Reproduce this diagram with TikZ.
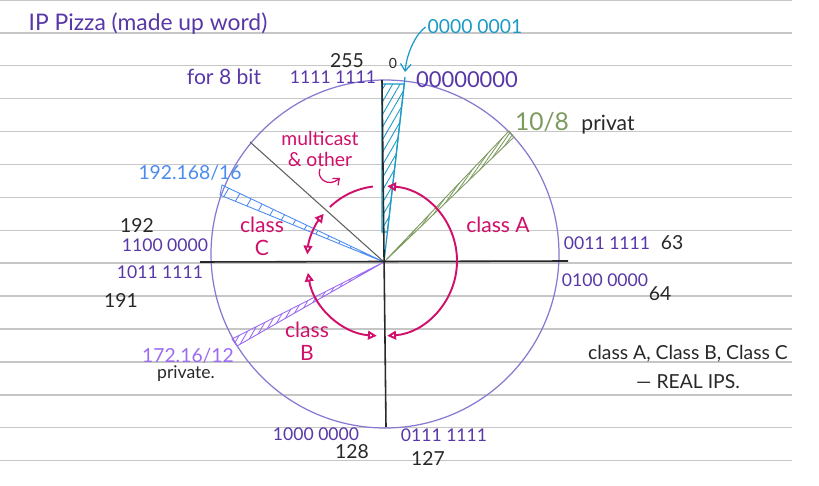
\documentclass[tikz,border=0pt]{standalone}
\usepackage{fontspec}
\setmainfont{Lato}
\usepackage{xcolor}
\definecolor{noteRule}{RGB}{198, 198, 198}
\definecolor{ringPurple}{RGB}{136, 120, 208}
\definecolor{binPurple}{RGB}{88, 56, 168}
\definecolor{hotPink}{RGB}{208, 16, 106}
\definecolor{cyanInk}{RGB}{27, 154, 199}
\definecolor{greenInk}{RGB}{125, 155, 94}
\definecolor{blueInk}{RGB}{75, 140, 240}
\definecolor{violetInk}{RGB}{155, 107, 242}
\definecolor{inkDark}{RGB}{40, 40, 40}
\definecolor{inkGray}{RGB}{95, 95, 95}
\usepackage{tikz}
\usetikzlibrary{
    arrows.meta,
    patterns.meta,
    calc
}

\begin{document}
\begin{tikzpicture}[
    x=0.02cm, y=-0.02cm,
    ruleLine/.style={draw=noteRule, line width=0.8pt},
    ringLine/.style={draw=ringPurple, line width=0.7pt},
    axisLine/.style={draw=inkDark, line width=0.9pt},
    classArc/.style={draw=hotPink, line width=1.1pt},
    classArrows/.style={
        classArc, {Triangle[open, length=5pt, width=5pt]}-{Triangle[open, length=5pt, width=5pt]}
    },
    cyanArrow/.style={-{Straight Barb[length=4pt, width=6pt]}, draw=cyanInk, line width=0.7pt},
    pinkArrow/.style={-{Straight Barb[length=3pt, width=5pt]}, draw=hotPink, line width=0.7pt},
    handText/.style={inner sep=1pt, font=\fontsize{11}{13}\selectfont},
    binText/.style={handText, text=binPurple, font=\fontsize{10}{12}\selectfont},
    numText/.style={handText, text=inkDark},
    pinkText/.style={handText, text=hotPink, align=center, font=\fontsize{12}{13}\selectfont}
]
    \useasboundingbox[fill=white] (0,0) rectangle (819,486);

    % Ruled paper
    \foreach \k in {0,...,14}
        \draw[ruleLine] (0,{32.9*\k}) -- (792,{32.9*\k});

    % Pizza layout
    \coordinate (hub) at (384,262);
    \coordinate (mc) at (382,261);
    \draw[ringLine] (385,254) circle[radius=174];

    % Hatched slices
    \filldraw[draw=cyanInk, line width=0.6pt,
        pattern={Lines[angle=60, distance=3.6pt, line width=0.5pt]}, pattern color=cyanInk]
        (382,84) -- (404.3,84) -- (387.4,232) -- (382,232) -- cycle;
    \draw[cyanInk, line width=0.7pt] (hub) -- (405,77);

    \filldraw[draw=greenInk, line width=0.5pt,
        pattern={Lines[angle=55, distance=1.8pt, line width=0.5pt]}, pattern color=greenInk]
        (hub) -- (509,131) -- (514,137) -- cycle;

    \filldraw[draw=blueInk, line width=0.5pt,
        pattern={Lines[angle=60, distance=7pt, line width=0.5pt]}, pattern color=blueInk]
        (hub) -- (222,185) -- (220,195) -- cycle;

    \filldraw[draw=violetInk, line width=0.5pt,
        pattern={Lines[angle=60, distance=3pt, line width=0.5pt]}, pattern color=violetInk]
        (hub) -- (232,339) -- (237,346) -- cycle;

    \draw[inkGray, line width=0.6pt] (hub) -- (250,142);

    % Axes
    \draw[axisLine] (200,262) -- (568,261);
    \draw[axisLine] (382,80) -- (386,427);

    % Class arcs
    \draw[classArrows] ($(mc)+(-86:75)$) arc[start angle=-86, end angle=86, radius=75];
    \draw[classArrows] ($(mc)+(94:75)$) arc[start angle=94, end angle=171, radius=75];
    \draw[classArrows] ($(mc)+(-175:75)$) arc[start angle=-175, end angle=-141, radius=75];
    \draw[classArc] ($(mc)+(-134:75)$) arc[start angle=-134, end angle=-97, radius=75];

    % Labels
    \node[handText, text=binPurple, font=\fontsize{13}{15}\selectfont] (title) at (148,24) {IP Pizza (made up word)};
    \node[handText, text=binPurple, font=\fontsize{12}{14}\selectfont] (forEight) at (224,77) {for 8 bit};
    \node[numText] (top255) at (347,61) {255};
    \node[binText] (bin255) at (333,77) {1111 1111};
    \node[numText, font=\fontsize{8}{9}\selectfont] (top0) at (393,63) {0};
    \node[binText, font=\fontsize{12.5}{14}\selectfont] (bin0) at (467,80) {00000000};
    \node[handText, text=cyanInk] (bin1) at (475,27) {0000 0001};
    \node[handText, text=greenInk, font=\fontsize{14}{16}\selectfont] (tenEight) at (542,122) {10/8};
    \node[numText, font=\fontsize{12}{14}\selectfont] (privA) at (608,125) {privat};
    \node[pinkText, font=\fontsize{11}{12}\selectfont] (multiLbl) at (320,149) {multicast\\\& other};
    \node[handText, text=blueInk] (net192) at (190,173) {192.168/16};
    \node[pinkText] (classC) at (262,236) {class\\C};
    \node[pinkText] (classA) at (498,225) {class A};
    \node[numText] (t192) at (137,226) {192};
    \node[binText] (bin192) at (165,245) {1100 0000};
    \node[binText] (bin191) at (160,272) {1011 1111};
    \node[numText] (t191) at (121,300) {191};
    \node[binText] (bin63) at (607,243) {0011 1111};
    \node[numText] (t63) at (672,243) {63};
    \node[binText] (bin64) at (605,280) {0100 0000};
    \node[numText] (t64) at (660,294) {64};
    \node[pinkText] (classB) at (307,341) {class\\B};
    \node[handText, text=violetInk] (net172) at (188,356) {172.16/12};
    \node[numText, font=\fontsize{10}{12}\selectfont] (privB) at (186,374) {private.};
    \node[numText, align=center] (realNote) at (688,367) {class A, Class B, Class C\\[4pt]--- REAL IPS.};
    \node[binText] (bin128) at (316,434) {1000 0000};
    \node[numText] (t128) at (352,452) {128};
    \node[binText] (bin127) at (444,435) {0111 1111};
    \node[numText] (t127) at (428,459) {127};

    % Pointers
    \coordinate (cyanTip) at (405,72);
    \draw[cyanArrow] (bin1.west) .. controls (416,34) and (407,52) .. (cyanTip);
    \coordinate (multiTip) at (340,178);
    \draw[pinkArrow] (multiLbl.south) .. controls (316,178) and (328,188) .. (multiTip);

\end{tikzpicture}
\end{document}
